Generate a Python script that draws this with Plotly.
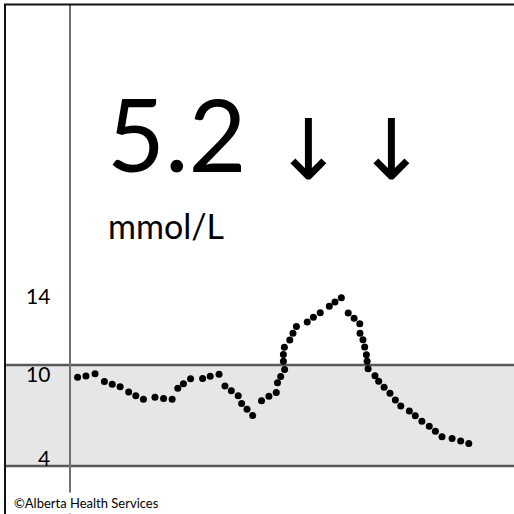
import plotly.graph_objects as go

# Glucose trace (time in minutes, glucose in mmol/L)
time_min = [3.1, 6.5, 10.2, 14.0, 17.2, 20.4, 23.9, 26.8, 29.9, 34.6, 38.1, 41.6,
            43.9, 46.2, 49.1, 54.0, 57.1, 60.7, 63.1, 65.7, 68.5, 69.9, 72.1, 74.4,
            78.0, 81.0, 84.0, 84.5, 85.8, 87.4, 86.9, 86.9, 87.3, 89.5, 90.8, 92.2,
            96.6, 99.1, 101.9, 105.6, 107.9, 110.5, 113.3, 115.7, 118.0, 118.1, 119.3,
            120.0, 120.7, 121.0, 121.4, 124.2, 125.7, 127.9, 130.3, 132.5, 134.7,
            138.2, 140.6, 143.3, 146.3, 148.8, 151.5, 155.6, 159.1, 162.4]
glucose = [9.27, 9.35, 9.48, 9.02, 8.85, 8.71, 8.40, 8.18, 7.96, 8.08, 8.01, 7.97,
           8.62, 8.89, 9.19, 9.20, 9.33, 9.45, 8.75, 8.47, 8.18, 7.72, 7.37, 7.00,
           7.88, 8.14, 8.37, 8.94, 9.32, 9.73, 10.22, 10.62, 11.05, 11.49, 11.88, 12.29,
           12.55, 12.83, 13.11, 13.49, 13.74, 14.00, 13.09, 12.77, 12.45, 11.88, 11.50,
           11.07, 10.61, 10.22, 9.78, 9.36, 9.03, 8.68, 8.32, 7.92, 7.56,
           7.27, 6.99, 6.66, 6.36, 6.06, 5.74, 5.63, 5.49, 5.33]

target_low = 4
target_high = 10
tick_values = [14, 10, 4]
tick_labels = ["14", "10", "4"]
tick_yshift = [2, -8, 9]

current_value = "5.2"
unit_label = "mmol/L"
trend_arrows = ["↓", "↓"]
credit = "©Alberta Health Services"

W = H = 514
FONT = "Lato"

fig = go.Figure()
fig.add_trace(go.Scatter(
    x=time_min, y=glucose, mode="markers",
    marker=dict(color="black", size=7, line=dict(width=0)),
    hoverinfo="skip", showlegend=False,
))

frame_left = 5 / W
shapes = [
    # target band
    dict(type="rect", xref="paper", yref="y", x0=frame_left, x1=1,
         y0=target_low, y1=target_high, fillcolor="#e6e6e6",
         line=dict(width=0), layer="below"),
    dict(type="line", xref="paper", yref="y", x0=frame_left, x1=1,
         y0=target_high, y1=target_high, line=dict(color="#5a5a5a", width=2.5),
         layer="below"),
    dict(type="line", xref="paper", yref="y", x0=frame_left, x1=1,
         y0=target_low, y1=target_low, line=dict(color="#5a5a5a", width=2.5),
         layer="below"),
    # vertical axis line
    dict(type="line", xref="x", yref="paper", x0=0, x1=0, y0=0, y1=1 - 4.5 / H,
         line=dict(color="#707070", width=2), layer="below"),
    # outer frame (left and top)
    dict(type="line", xref="paper", yref="paper", x0=frame_left, x1=frame_left,
         y0=0, y1=1 - 4.5 / H, line=dict(color="#111111", width=2)),
    dict(type="line", xref="paper", yref="paper", x0=frame_left - 1 / W, x1=1,
         y0=1 - 4.5 / H, y1=1 - 4.5 / H, line=dict(color="#111111", width=1.8)),
]

annotations = []
for v, lab, ys in zip(tick_values, tick_labels, tick_yshift):
    annotations.append(dict(xref="x", yref="y", x=0, y=v, text=lab,
                            showarrow=False, xanchor="right", yanchor="middle",
                            xshift=-18, yshift=ys,
                            font=dict(family=FONT, size=21, color="black")))

annotations.append(dict(xref="paper", yref="paper", x=105 / W, y=1 - 133 / H,
                        text=current_value, showarrow=False, xanchor="left",
                        yanchor="middle", font=dict(family=FONT, size=100, color="black")))
arrow_x = [308, 391]
for a, cx in zip(trend_arrows, arrow_x):
    annotations.append(dict(xref="paper", yref="paper", x=cx / W, y=1 - 150 / H,
                            text=a, showarrow=False, xanchor="center",
                            yanchor="middle",
                            font=dict(family="DejaVu Sans", size=84, color="black")))
annotations.append(dict(xref="paper", yref="paper", x=106 / W, y=1 - 225 / H,
                        text=unit_label, showarrow=False, xanchor="left",
                        yanchor="middle", font=dict(family=FONT, size=34, color="black")))
annotations.append(dict(xref="paper", yref="paper", x=11 / W, y=0,
                        text=credit, showarrow=False, xanchor="left",
                        yanchor="bottom", bgcolor="white", borderpad=2,
                        font=dict(family=FONT, size=13, color="black")))

# pixel mapping: x=0 at px 70, x=180 at px 512; y=10 at px 365, y=4 at px 466
px_per_x = 442 / 180
px_per_y = 101 / 6
x_range = [0 - 70 / px_per_x, 180 + (W - 512) / px_per_x]
y_range = [4 - (H - 466) / px_per_y, 10 + 365 / px_per_y]

fig.update_layout(
    width=W, height=H,
    margin=dict(l=0, r=0, t=0, b=0),
    paper_bgcolor="white", plot_bgcolor="white",
    xaxis=dict(range=x_range, visible=False, fixedrange=True),
    yaxis=dict(range=y_range, visible=False, fixedrange=True),
    shapes=shapes, annotations=annotations,
    showlegend=False,
)

fig.write_html(
    "out.html",
    config={"displayModeBar": False},
    post_script="document.body.style.margin='0';document.body.style.overflow='hidden';",
)
